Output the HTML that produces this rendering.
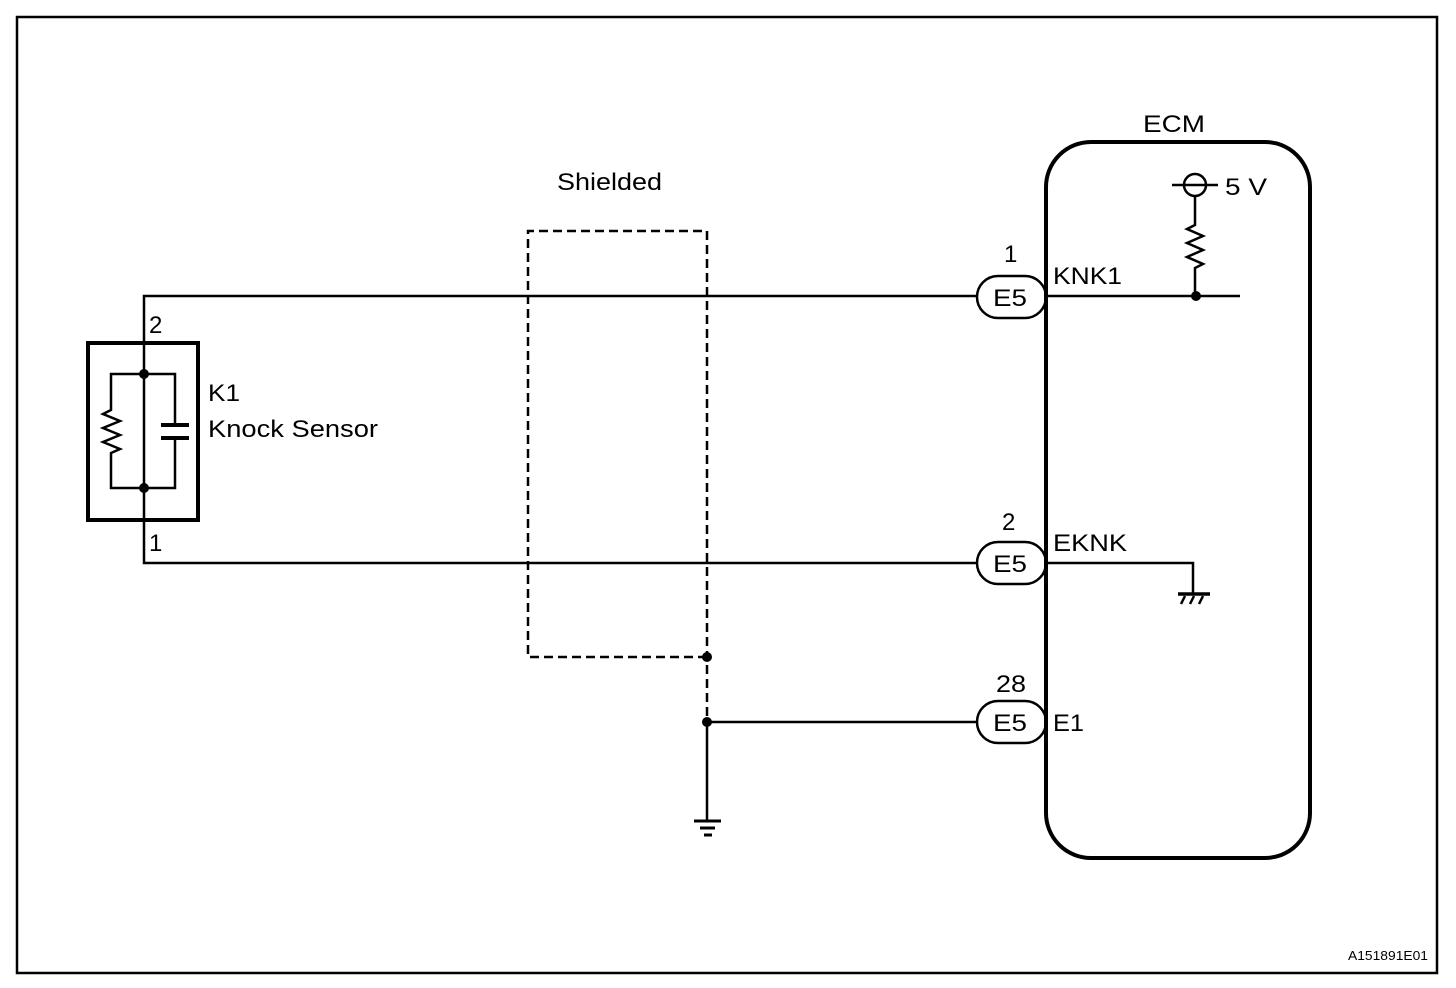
<!DOCTYPE html>
<html><head><style>
html,body{margin:0;padding:0;background:#fff;}
svg{display:block;}
text{font-family:"Liberation Sans",Arial,sans-serif;fill:#000;}
</style></head><body>
<svg width="1456" height="988" viewBox="0 0 1456 988" xmlns="http://www.w3.org/2000/svg">
<rect x="17" y="17" width="1420" height="956" fill="none" stroke="#000" stroke-width="2.5"/>
<g stroke="#000" fill="none" stroke-width="2.5">
<polyline points="144,343 144,296 977,296"/>
<polyline points="144,520 144,563 977,563"/>
<line x1="144" y1="343" x2="144" y2="520"/>
<line x1="707" y1="722" x2="977" y2="722"/>
<line x1="707" y1="722" x2="707" y2="821"/>
<line x1="694" y1="821" x2="721" y2="821" stroke-width="3"/>
<line x1="700" y1="828" x2="715" y2="828" stroke-width="3"/>
<line x1="704" y1="835" x2="712" y2="835" stroke-width="3"/>
<path d="M707,657 L528,657 L528,231 L707,231 L707,722" stroke-dasharray="9,5"/>
<rect x="88" y="343" width="110" height="177" stroke-width="4"/>
<polyline points="144,374 111,374 111,410 103,414 120,421 103,428 120,435 103,442 120,449 111,453 111,488 144,488"/>
<polyline points="144,374 175,374 175,425"/>
<polyline points="144,488 175,488 175,438"/>
<line x1="161" y1="425" x2="189" y2="425" stroke-width="4"/>
<line x1="161" y1="438" x2="189" y2="438" stroke-width="4"/>
<rect x="1046" y="142" width="264" height="716" rx="45" ry="45" stroke-width="4"/>
<rect x="977" y="276" width="69" height="42" rx="21" ry="21"/>
<rect x="977" y="542" width="69" height="42" rx="21" ry="21"/>
<rect x="977" y="701" width="69" height="42" rx="21" ry="21"/>
<line x1="1046" y1="296" x2="1240" y2="296"/>
<circle cx="1195" cy="185" r="11"/>
<line x1="1172" y1="185" x2="1218" y2="185"/>
<polyline points="1195,196 1195,225 1187,229 1203,236 1187,243 1203,250 1187,257 1203,264 1195,268 1195,296"/>
<polyline points="1046,563 1193,563 1193,593"/>
<line x1="1178" y1="594" x2="1210" y2="594" stroke-width="3.5"/>
<line x1="1185" y1="596" x2="1181" y2="604"/>
<line x1="1194" y1="596" x2="1190" y2="604"/>
<line x1="1203" y1="596" x2="1199" y2="604"/>
</g>
<g fill="#000">
<circle cx="144" cy="374" r="5"/>
<circle cx="144" cy="488" r="5"/>
<circle cx="707" cy="657" r="5"/>
<circle cx="707" cy="722" r="5"/>
<circle cx="1196" cy="296" r="5"/>
</g>
<g font-size="24">
<text x="557" y="190" textLength="105" lengthAdjust="spacingAndGlyphs">Shielded</text>
<text x="1143" y="132" textLength="62" lengthAdjust="spacingAndGlyphs">ECM</text>
<text x="1225" y="195" textLength="42" lengthAdjust="spacingAndGlyphs">5 V</text>
<text x="1004" y="262">1</text>
<text x="1002" y="530">2</text>
<text x="996" y="692" textLength="30" lengthAdjust="spacingAndGlyphs">28</text>
<text x="993" y="306" textLength="34" lengthAdjust="spacingAndGlyphs">E5</text>
<text x="993" y="572" textLength="34" lengthAdjust="spacingAndGlyphs">E5</text>
<text x="993" y="731" textLength="34" lengthAdjust="spacingAndGlyphs">E5</text>
<text x="1053" y="284" textLength="69" lengthAdjust="spacingAndGlyphs">KNK1</text>
<text x="1053" y="551" textLength="74" lengthAdjust="spacingAndGlyphs">EKNK</text>
<text x="1053" y="731" textLength="31" lengthAdjust="spacingAndGlyphs">E1</text>
<text x="149" y="333">2</text>
<text x="149" y="551">1</text>
<text x="208" y="401" textLength="32" lengthAdjust="spacingAndGlyphs">K1</text>
<text x="208" y="437" textLength="170" lengthAdjust="spacingAndGlyphs">Knock Sensor</text>
</g>
<text x="1348" y="960" font-size="13" textLength="80" lengthAdjust="spacingAndGlyphs">A151891E01</text>
</svg>
</body></html>
